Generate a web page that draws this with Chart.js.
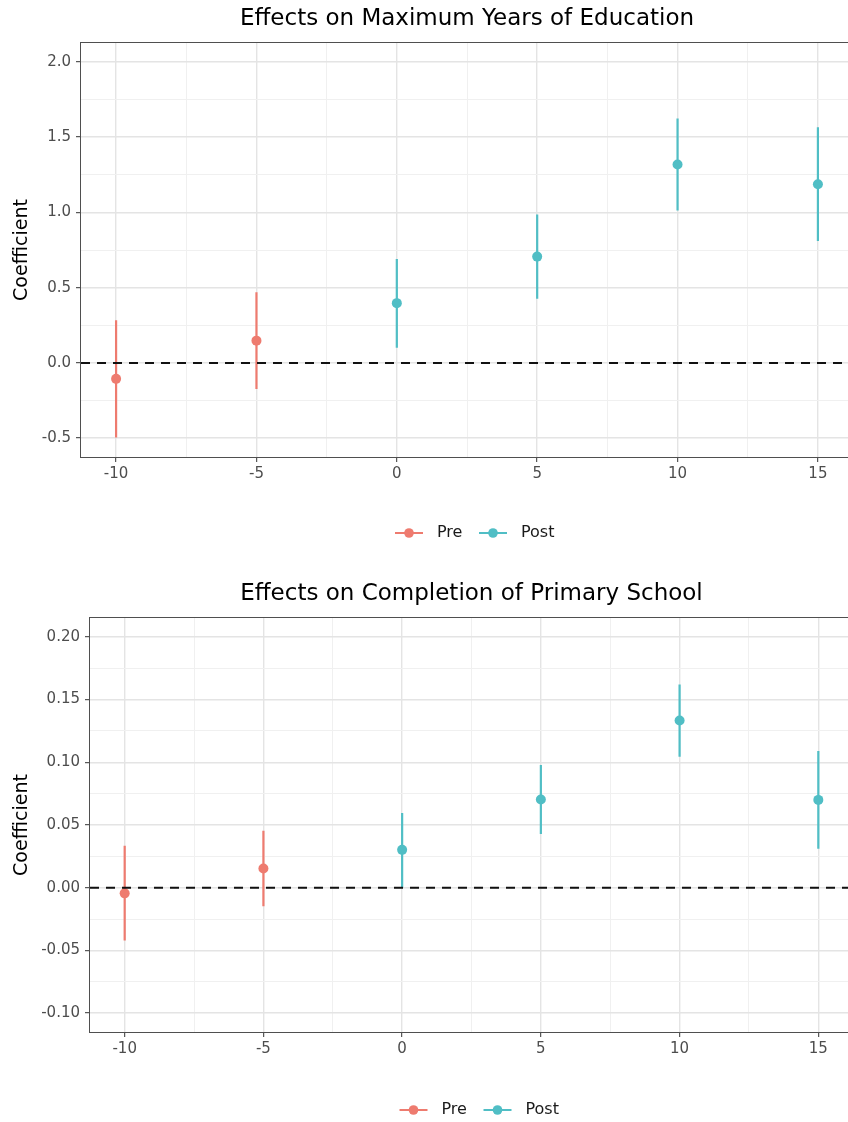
<!DOCTYPE html>
<html>
<head>
<meta charset="utf-8">
<script src="https://cdn.jsdelivr.net/npm/chart.js@4.4.1/dist/chart.umd.min.js"></script>
<style>
  html, body { margin: 0; padding: 0; background: #ffffff; overflow: hidden; width: 848px; height: 1122px; }
  .wrap { position: absolute; left: 0; width: 870px; }
  canvas { display: block; }
</style>
</head>
<body>
<div class="wrap" style="top:0px;height:560px"><canvas id="c1" width="870" height="560"></canvas></div>
<div class="wrap" style="top:560px;height:562px"><canvas id="c2" width="870" height="562"></canvas></div>
<script>
// ---------------- data ----------------
const years   = [-10, -5, 0, 5, 10, 15];
const periods = ['Pre', 'Pre', 'Post', 'Post', 'Post', 'Post'];
const seriesNames = ['Pre', 'Post'];

const eduCoef = [-0.106, 0.148, 0.397, 0.706, 1.318, 1.187];
const eduLow  = [-0.496, -0.173, 0.100, 0.427, 1.012, 0.809];
const eduHigh = [0.284, 0.470, 0.690, 0.985, 1.623, 1.566];

const primCoef = [-0.0045, 0.0153, 0.0302, 0.0703, 0.1333, 0.0700];
const primLow  = [-0.0420, -0.0148, 0.0000, 0.0428, 0.1045, 0.0310];
const primHigh = [0.0335, 0.0455, 0.0595, 0.0979, 0.1620, 0.1090];

const xTicks     = [-10, -5, 0, 5, 10, 15];
const eduYTicks  = [-0.5, 0.0, 0.5, 1.0, 1.5, 2.0];
const primYTicks = [-0.10, -0.05, 0.00, 0.05, 0.10, 0.15, 0.20];

const titles = ['Effects on Maximum Years of Education', 'Effects on Completion of Primary School'];
const yTitle = 'Coefficient';

// ---------------- styling ----------------
Chart.defaults.font.family = "'DejaVu Sans', sans-serif";
const COLORS = { Pre: '#EE7B6F', Post: '#50BEC5' };
const GRID_MAJOR = '#E4E4E4', GRID_MINOR = '#F0F0F0';

function midpoints(arr) { const out = []; for (let i = 0; i < arr.length - 1; i++) out.push((arr[i] + arr[i + 1]) / 2); return out; }
function buildTicks(majors) {
  return majors.map(v => ({ value: v, minor: false }))
    .concat(midpoints(majors).map(v => ({ value: v, minor: true })))
    .sort((a, b) => a.value - b.value);
}
function expand(lo, hi) { const d = (hi - lo) * 0.05; return [lo - d, hi + d]; }
function indicesOf(name) { return periods.map((p, i) => p === name ? i : -1).filter(i => i >= 0); }
function errorBarData(idx, low, high) {
  const d = [];
  idx.forEach(i => { d.push({ x: years[i], y: low[i] }, { x: years[i], y: high[i] }, { x: years[i], y: null }); });
  return d;
}

const framePlugin = {
  id: 'panelFrame',
  afterDatasetsDraw(chart) {
    const a = chart.chartArea, ctx = chart.ctx;
    ctx.save();
    ctx.strokeStyle = '#4f4f4f';
    ctx.lineWidth = 1;
    ctx.strokeRect(Math.round(a.left) - 0.5, Math.round(a.top) - 0.5, Math.round(a.right - a.left) + 1, Math.round(a.bottom - a.top) + 1);
    ctx.restore();
  }
};

function legendPlugin(yCenter) {
  return {
    id: 'ggLegend',
    afterDraw(chart) {
      const ctx = chart.ctx, a = chart.chartArea;
      const L = (a.left + a.right) / 2 - 72;
      ctx.save();
      seriesNames.forEach((name, k) => {
        const x = L + k * 84;
        ctx.strokeStyle = COLORS[name];
        ctx.lineWidth = 2;
        ctx.beginPath(); ctx.moveTo(x, yCenter); ctx.lineTo(x + 28, yCenter); ctx.stroke();
        ctx.fillStyle = COLORS[name];
        ctx.beginPath(); ctx.arc(x + 14, yCenter, 4.8, 0, Math.PI * 2); ctx.fill();
        ctx.fillStyle = '#1a1a1a';
        ctx.font = "16px 'DejaVu Sans', sans-serif";
        ctx.textBaseline = 'middle'; ctx.textAlign = 'left';
        ctx.fillText(name, x + 42, yCenter);
      });
      ctx.restore();
    }
  };
}

function gridOpts() {
  return {
    color: c => (c.tick && c.tick.minor) ? GRID_MINOR : GRID_MAJOR,
    lineWidth: c => (c.tick && c.tick.minor) ? 1 : 1.4,
    tickColor: c => (c.tick && c.tick.minor) ? 'rgba(0,0,0,0)' : '#333333',
    tickLength: 5,
    tickWidth: 1,
    drawTicks: true
  };
}

function makeChart(id, o) {
  const [xMin, xMax] = expand(xTicks[0], xTicks[xTicks.length - 1]);
  const [yMin, yMax] = expand(o.yTicks[0], o.yTicks[o.yTicks.length - 1]);
  const datasets = [{
    label: 'zero', data: [{ x: xMin, y: 0 }, { x: xMax, y: 0 }], showLine: true,
    borderColor: '#111111', borderWidth: 2, borderDash: [9, 7], pointRadius: 0, order: 0
  }];
  seriesNames.forEach(name => {
    const idx = indicesOf(name);
    datasets.push({
      label: name + ' CI', data: errorBarData(idx, o.low, o.high), showLine: true, spanGaps: false,
      borderColor: COLORS[name], borderWidth: 2.2, pointRadius: 0, order: 3
    });
    datasets.push({
      label: name, data: idx.map(i => ({ x: years[i], y: o.coef[i] })),
      pointRadius: 5, backgroundColor: COLORS[name], borderWidth: 0, order: 2
    });
  });
  return new Chart(document.getElementById(id), {
    type: 'scatter',
    data: { datasets },
    options: {
      responsive: false, animation: false, events: [],
      layout: { autoPadding: false, padding: { left: 0, right: 17, top: 0, bottom: o.padBottom } },
      plugins: {
        legend: { display: false },
        tooltip: { enabled: false },
        title: {
          display: true, text: o.title, fullSize: false, color: '#000000',
          font: { size: 23, weight: 'normal' }, padding: { top: o.titleTop, bottom: o.titleBottom }
        }
      },
      scales: {
        x: {
          type: 'linear', min: xMin, max: xMax,
          afterBuildTicks: s => { s.ticks = buildTicks(xTicks); },
          afterFit: s => { s.height = 30; },
          ticks: {
            autoSkip: false, maxRotation: 0, minRotation: 0, padding: 3, color: '#4D4D4D', font: { size: 15 },
            callback: (v, i, t) => t[i].minor ? '' : String(v)
          },
          grid: gridOpts(),
          border: { display: false }
        },
        y: {
          type: 'linear', min: yMin, max: yMax,
          afterBuildTicks: s => { s.ticks = buildTicks(o.yTicks); },
          afterFit: s => { s.width = o.yWidth; },
          ticks: {
            autoSkip: false, padding: 5, color: '#4D4D4D', font: { size: 15 },
            callback: (v, i, t) => t[i].minor ? '' : v.toFixed(o.decimals)
          },
          grid: gridOpts(),
          border: { display: false },
          title: { display: true, text: yTitle, color: '#000000', font: { size: 19 }, padding: { top: 10.5, bottom: 0 } }
        }
      }
    },
    plugins: [framePlugin, legendPlugin(o.legendY)]
  });
}

makeChart('c1', {
  title: titles[0], coef: eduCoef, low: eduLow, high: eduHigh, yTicks: eduYTicks, decimals: 1,
  titleTop: 5.2, titleBottom: 10.2, padBottom: 73, yWidth: 81, legendY: 533
});
makeChart('c2', {
  title: titles[1], coef: primCoef, low: primLow, high: primHigh, yTicks: primYTicks, decimals: 2,
  titleTop: 20.2, titleBottom: 10.2, padBottom: 60, yWidth: 90, legendY: 550
});
</script>
</body>
</html>
